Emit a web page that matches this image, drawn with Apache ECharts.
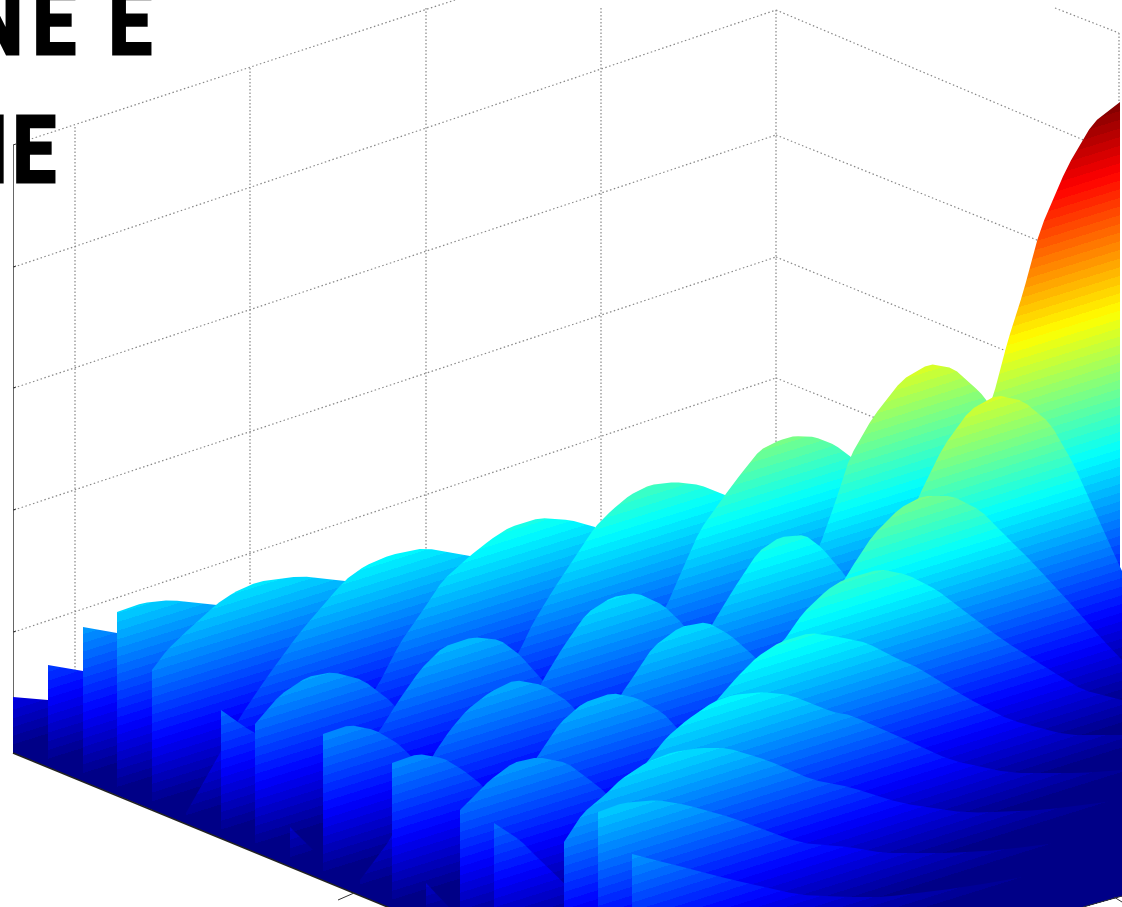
<!DOCTYPE html>
<html>
<head>
<meta charset="utf-8">
<title>surface</title>
<style>
html, body { margin: 0; padding: 0; background: #fff; overflow: hidden; }
#chart { width: 1122px; height: 907px; }
</style>
<script src="https://cdn.jsdelivr.net/npm/echarts@6/dist/echarts.min.js"></script>
</head>
<body>
<div id="chart"></div>
<script>
// each ridge is one hump of the surface as [across, height]
var col0 = [[13,697],[48,700]];
var col1 = [[48,665],[83,671]];
var col2 = [[83,627],[117,633]];
var col3 = [[117,612],[143,603],[170,600],[217,605]];
var back1 = [[152,670],[167,650],[190,628],[217,604],[233,593],[257,582],[300,576],[345,581]];
var back2 = [[186,813],[220,753],[240,717],[267,677],[300,632],[345,580],[365,566],[390,555],[425,548],[470,556]];
var back3 = [[340,740],[377,687],[400,643],[423,610],[443,580],[470,556],[490,540],[510,527],[540,518],[570,520],[595,527]];
var back4 = [[480,720],[520,650],[533,623],[553,590],[575,557],[595,527],[612,510],[630,495],[650,485],[675,482],[700,485],[725,495]];
var back5 = [[640,650],[667,605],[680,575],[700,530],[725,495],[740,475],[760,450],[780,440],[795,436],[815,437],[835,445],[855,460]];
var back6 = [[800,590],[820,545],[836,500],[850,457],[873,417],[902,380],[929,364],[953,368],[980,392],[990,405],[1000,430]];
var peak = [[950,520],[993,397],[1008,340],[1023,293],[1040,230],[1067,167],[1093,123],[1120,102]];
var stub1 = [[221,710],[245,727],[255,733]];
var rowA1 = [[255,724],[280,695],[307,677],[333,672],[363,680],[393,703],[410,730]];
var rowA2 = [[330,800],[380,730],[397,703],[420,670],[443,647],[473,637],[500,640],[520,655],[545,683],[560,700]];
var stub2 = [[290,827],[313,850],[323,860]];
var rowA3 = [[500,760],[543,680],[563,647],[587,613],[612,597],[637,593],[663,605],[682,623],[700,650]];
var rowA4 = [[680,680],[713,623],[733,590],[758,552],[780,537],[805,535],[822,548],[845,575],[860,600]];
var rowA5 = [[880,590],[918,498],[943,447],[970,410],[997,395],[1023,401],[1050,423],[1073,463],[1093,507],[1120,567],[1122,571]];
var rowB1 = [[323,734],[350,725],[375,730],[397,743],[410,755],[430,780]];
var rowB2 = [[360,880],[392,837],[433,755],[450,730],[467,710],[490,692],[515,680],[543,685],[570,703],[590,730]];
var rowB3 = [[590,750],[622,693],[633,677],[653,647],[680,627],[707,622],[730,635],[755,657],[775,680]];
var rowB4 = [[815,630],[850,570],[873,535],[900,508],[923,496],[952,496],[980,510],[1007,537],[1033,563],[1070,603],[1103,640],[1122,660]];
var rowC1 = [[392,763],[418,754],[443,758],[463,770],[482,785],[500,810]];
var stub3 = [[426,883],[447,905],[470,930]];
var rowC2 = [[490,830],[537,757],[560,723],[583,703],[612,693],[637,698],[663,713],[677,728],[700,755]];
var rowC3 = [[740,680],[782,643],[803,613],[827,590],[843,580],[880,569],[908,575],[937,590],[963,610],[1003,640],[1050,670],[1083,690],[1122,700]];
var rowD1 = [[460,810],[473,797],[490,780],[513,763],[538,757],[567,763],[590,780],[605,792],[625,815]];
var stub4 = [[494,823],[520,840],[540,860],[563,882],[580,900]];
var rowD2 = [[680,745],[717,700],[737,677],[757,657],[780,642],[810,633],[840,637],[867,643],[900,660],[917,667],[967,698],[1010,720],[1067,735],[1122,735]];
var front1 = [[620,795],[647,762],[667,737],[687,720],[713,702],[733,695],[763,692],[790,695],[833,712],[850,715],[900,737],[950,760],[1010,773],[1083,773],[1122,770]];
var front2 = [[564,842],[583,813],[607,793],[620,780],[647,762],[673,752],[700,748],[727,748],[767,760],[813,780],[850,787],[900,803],[967,813],[1043,810],[1122,800]];
var front3 = [[598,812],[623,803],[657,800],[687,805],[733,818],[800,843],[850,847],[883,853],[950,853],[1000,850],[1122,835]];
var front4 = [[632,854],[667,863],[733,880],[800,895],[850,897],[883,897],[960,888],[1122,860]];

// painted in this order, back to front
var ridges = [col0,col1,col2,col3,back1,back2,back3,back4,back5,back6,peak,stub1,rowA1,rowA2,stub2,rowA3,rowA4,rowA5,
  rowB1,rowB2,rowB3,rowB4,rowC1,stub3,rowC2,rowC3,rowD1,stub4,rowD2,front1,front2,front3,front4];
// where each ridge's sheet meets the front edge
var ridgeStarts = [13,48,83,117,152,186,220,255,289,323,357,221,255,289,289,323,357,392,
  323,357,392,426,392,426,426,460,460,495,495,529,564,598,632];

// floor outline
var floorX = [13,672,1122];
var floorY = [753,1023,896];

// walls
var wallLeft = [[[28,140],[455,0]],[[14,267],[776,10]],[[14,388],[776,135]],[[14,510],[776,257]],[[14,632],[776,378]]];
var wallRight = [[[776,10],[1119,155]],[[776,135],[1119,273]],[[776,257],[1119,397]],[[776,378],[1119,516]],[[1055,8],[1119,33]]];
var wallUp = [[[75,127],[75,700]],[[250,68],[250,620]],[[426,8],[426,600]],[[601,8],[601,560]],[[776,10],[776,500]],[[1119,33],[1119,102]]];
var axisLeft = [[[13.5,145],[13.5,753]]];
var axisFront = [[[13,753],[390,908]]];
var axisTicks = [[[338,900],[354,893]],[[1114,897],[1122,902]],[[1083,907],[1122,896]],
  [[13,145],[16,144]],[[13,267],[16,266]],[[13,388],[16,387]],[[13,510],[16,509]],[[13,632],[16,631]]];
var titleLetters = ['N','E','E','I','E'];

var slope = 0.31;      // bands of one colour climb this much per unit across
var fullHeight = 555;  // height of the whole colormap

function jet(t){
  var r = Math.min(4*t-1.5, -4*t+4.5);
  var g = Math.min(4*t-0.5, -4*t+3.5);
  var b = Math.min(4*t+0.5, -4*t+2.5);
  function c(v){ return Math.round(255*Math.max(0,Math.min(1,v))); }
  return 'rgb('+c(r)+','+c(g)+','+c(b)+')';
}
var jetStops = [];
for(var i=0;i<64;i++){
  var col = jet((i+0.5)/64);
  jetStops.push({offset:i/64,color:col});
  jetStops.push({offset:(i+1)/64,color:col});
}

function floorAt(x){
  if(x<floorX[1]) return floorY[0]+(x-floorX[0])*(floorY[1]-floorY[0])/(floorX[1]-floorX[0]);
  return floorY[1]+(x-floorX[1])*(floorY[2]-floorY[1])/(floorX[2]-floorX[1]);
}

// corner cutting, only rounds the drawn edge
function soften(pts){
  var out = [pts[0]];
  for(var i=0;i<pts.length-1;i++){
    var a = pts[i], b = pts[i+1];
    if(i>0) out.push([a[0]*0.85+b[0]*0.15,a[1]*0.85+b[1]*0.15]);
    if(i<pts.length-2) out.push([a[0]*0.15+b[0]*0.85,a[1]*0.15+b[1]*0.85]);
  }
  out.push(pts[pts.length-1]);
  return out;
}

function renderRidge(params, api){
  var idx = api.value(0);
  var pts = soften(ridges[idx]);
  var x0 = pts[0][0], x1 = pts[pts.length-1][0];
  var outline = pts.slice();
  outline.push([x1,floorAt(x1)]);
  if(x0<floorX[1] && x1>floorX[1]) outline.push([floorX[1],floorY[1]]);
  outline.push([x0,floorAt(x0)]);

  // zero colour line of this sheet, the colormap runs square to it
  var start = ridgeStarts[idx];
  var c = floorAt(start)+slope*start;
  var k = fullHeight/(1+slope*slope);
  var p0 = api.coord([0,c]);
  var p1 = api.coord([-slope*k,c-k]);
  return {
    type:'polygon',
    shape:{points:outline.map(function(p){ return api.coord(p); })},
    style:{fill:new echarts.graphic.LinearGradient(p0[0],p0[1],p1[0],p1[1],jetStops,true)}
  };
}

function lineSeries(lines, color, width, dash, z){
  return lines.map(function(l){
    return {
      type:'line', data:l, z:z, silent:true, symbol:'none', animation:false,
      lineStyle:{color:color,width:width,type:dash}
    };
  });
}

function letter(text, x, y){
  return {
    type:'text', z:10, silent:true, x:x, y:y, scaleX:0.83,
    style:{text:text,x:0,y:0,align:'right',verticalAlign:'middle',fill:'#000',stroke:'#000',lineWidth:3,lineJoin:'round',font:'bold 93px Roboto'}
  };
}

var series = [].concat(
  lineSeries(wallLeft,'#888',1.2,[1.5,2.5],1),
  lineSeries(wallRight,'#888',1.2,[1.5,2.5],1),
  lineSeries(wallUp,'#888',1.2,[1.5,2],1),
  lineSeries(axisLeft,'#666',1,'solid',1),
  [{
    type:'custom', z:2, silent:true, animation:false,
    data:ridges.map(function(r,i){ return [i]; }),
    renderItem:renderRidge
  }],
  lineSeries(axisFront,'#222',1.5,'solid',3),
  lineSeries(axisTicks,'#333',1,'solid',3)
);

var chart = echarts.init(document.getElementById('chart'));
chart.setOption({
  animation:false,
  backgroundColor:'#fff',
  grid:{left:0,right:0,top:0,bottom:0},
  xAxis:{type:'value',min:0,max:1122,show:false},
  yAxis:{type:'value',min:0,max:907,inverse:true,show:false},
  graphic:[
    letter(titleLetters[0],23,31),
    letter(titleLetters[1],76,31),
    letter(titleLetters[2],152,31),
    letter(titleLetters[3],8,159),
    letter(titleLetters[4],56,159)
  ],
  series:series
});
</script>
</body>
</html>
